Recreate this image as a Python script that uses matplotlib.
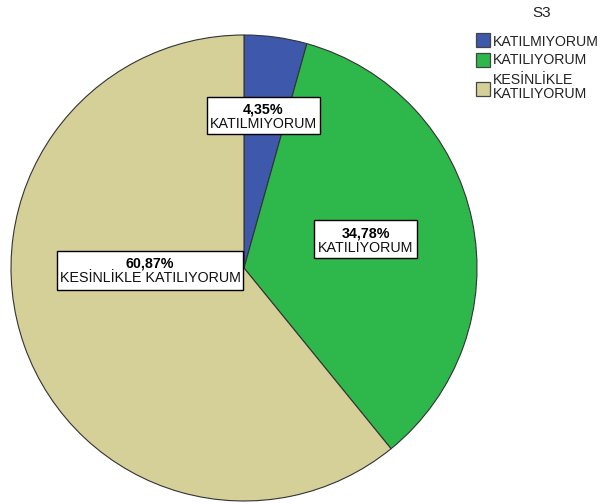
import matplotlib
matplotlib.use("Agg")
import matplotlib.pyplot as plt
from matplotlib.patches import Rectangle

plt.rcParams['font.family'] = ['Liberation Sans', 'DejaVu Sans']

categories = ["KATILMIYORUM", "KATILIYORUM", "KESİNLİKLE KATILIYORUM"]
legend_labels = ["KATILMIYORUM", "KATILIYORUM", "KESİNLİKLE\nKATILIYORUM"]
values = [4.35, 34.78, 60.87]
pct_labels = ["4,35%", "34,78%", "60,87%"]
colors = ["#3E58AC", "#2EB84B", "#D5CF98"]
legend_title = "S3"

W, H = 602, 504
fig = plt.figure(figsize=(W / 100, H / 100), dpi=100)
ax = fig.add_axes([0, 0, 1, 1])

cx, cy, r = 244, H - 268, 233
ax.pie(values, colors=colors, startangle=90, counterclock=False,
       center=(cx, cy), radius=r, frame=True,
       wedgeprops=dict(edgecolor='#333333', linewidth=0.8))
ax.set_xlim(0, W)
ax.set_ylim(0, H)
ax.set_aspect('equal')
ax.axis('off')

# slice label boxes: (x0, x1, y_top, y_bottom) in pixels from top-left
boxes = [(207, 320, 97, 134), (314, 417, 220, 258), (57, 243, 251, 290)]
pct_y = [110, 234, 264]
cat_y = [124, 248, 278]
fs = 10.3
for (x0, x1, yt, yb), py, cy_, pct, cat in zip(boxes, pct_y, cat_y,
                                               pct_labels, categories):
    ax.add_patch(Rectangle((x0, H - yb), x1 - x0, yb - yt, facecolor='white',
                           edgecolor='black', linewidth=1.0, zorder=3))
    xc = (x0 + x1) / 2
    ax.text(xc, H - py, pct, ha='center', va='center', fontsize=fs,
            fontweight='bold', color='black', zorder=4)
    ax.text(xc, H - cy_, cat, ha='center', va='center', fontsize=fs,
            color='#111111', zorder=4)

# legend
ax.text(542, H - 13, legend_title, ha='center', va='center', fontsize=11,
        color='#222222')
sq_y = [40, 59.5, 88.5]
txt_y = [41.5, 59.5, 87.5]
for sy, ty, lab, col in zip(sq_y, txt_y, legend_labels, colors):
    ax.add_patch(Rectangle((476, H - sy - 7), 14, 14, facecolor=col,
                           edgecolor='#444444', linewidth=0.9))
    ax.text(493, H - ty, lab, ha='left', va='center', fontsize=10.2,
            color='#222222', linespacing=1.0)

fig.savefig("out.png", dpi=100)
